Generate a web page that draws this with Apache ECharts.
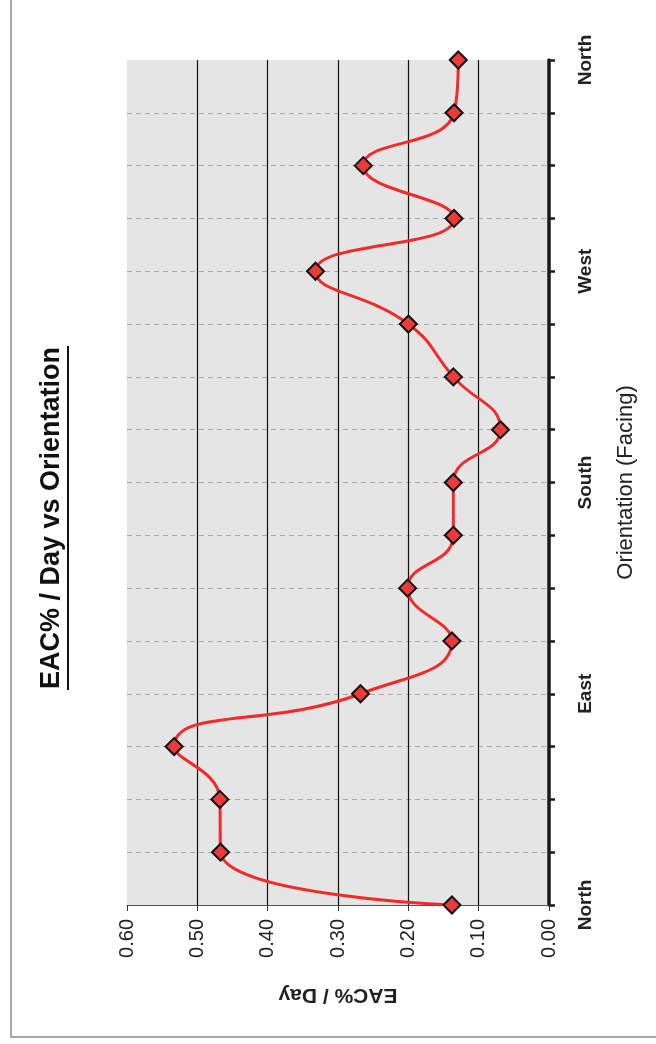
<!DOCTYPE html>
<html>
<head>
<meta charset="utf-8">
<script src="https://cdn.jsdelivr.net/npm/echarts@6/dist/echarts.min.js"></script>
<style>
html,body{margin:0;padding:0;background:#fff;}
#c{width:656px;height:1044px;}
</style>
</head>
<body>
<div id="c"></div>
<script>
const categories = ['North','','','','East','','','','South','','','','West','','','','North'];
const values = [0.138, 0.467, 0.468, 0.533, 0.268, 0.138, 0.201, 0.136, 0.136, 0.069, 0.136, 0.2, 0.332, 0.135, 0.264, 0.135, 0.129];
const valueTicks = { min: 0, max: 0.6, interval: 0.1 };
const titleText = 'EAC% / Day vs Orientation';
const valueAxisName = 'EAC% / Day';
const categoryAxisName = 'Orientation (Facing)';

const chart = echarts.init(document.getElementById('c'), null, {renderer: 'canvas'});
const font = '"Liberation Sans", Arial, sans-serif';
const gridLineColors = ['rgba(0,0,0,0)', '#111', '#111', '#111', '#111', '#111', 'rgba(0,0,0,0)'];
chart.setOption({
  backgroundColor: '#ffffff',
  animation: false,
  textStyle: { fontFamily: font },
  grid: {
    left: 127, right: 107, top: 60, bottom: 139,
    show: true, backgroundColor: '#e5e5e5', borderWidth: 0
  },
  graphic: [
    { type: 'rect', shape: { x: 11, y: -10, width: 700, height: 1047 },
      style: { fill: 'none', stroke: '#8a8a8a', lineWidth: 1.5 }, silent: true, z: -1 },
    { type: 'text', x: 52, y: 518, rotation: Math.PI / 2,
      style: { text: titleText, font: 'bold 27px ' + font, fill: '#111',
               textAlign: 'center', textVerticalAlign: 'middle' } },
    { type: 'line', shape: { x1: 68, y1: 346, x2: 68, y2: 690 },
      style: { stroke: '#111', lineWidth: 2 } }
  ],
  xAxis: {
    type: 'value', inverse: true, position: 'bottom',
    min: valueTicks.min, max: valueTicks.max, interval: valueTicks.interval,
    axisLine: { show: true, onZero: false, lineStyle: { color: '#555', width: 1 } },
    axisTick: { show: true, length: 6, lineStyle: { color: '#333' } },
    axisLabel: { rotate: 90, margin: 14, fontSize: 20, color: '#222', fontFamily: font,
                 formatter: v => v.toFixed(2) },
    splitLine: { show: true, lineStyle: { color: gridLineColors, width: 1.2 } },
    name: valueAxisName, nameLocation: 'middle', nameGap: 79, nameRotate: 180,
    nameTextStyle: { fontSize: 21, fontWeight: 'bold', color: '#222', fontFamily: font }
  },
  yAxis: {
    type: 'category', position: 'right', boundaryGap: false, data: categories,
    axisLine: { show: true, lineStyle: { color: '#1a1a1a', width: 3.5 } },
    axisTick: { show: true, interval: 0, length: 6, inside: false, lineStyle: { color: '#1a1a1a', width: 2.5 } },
    axisLabel: { interval: 0, rotate: 90, margin: 27, fontSize: 19, fontWeight: 'bold', color: '#222', fontFamily: font },
    splitLine: { show: true, interval: 0, showMinLine: false, showMaxLine: false, lineStyle: { color: '#aaaaaa', type: [5, 4], width: 1 } },
    name: categoryAxisName, nameLocation: 'middle', nameGap: 66, nameRotate: 90,
    nameTextStyle: { fontSize: 22, color: '#222', fontFamily: font }
  },
  series: [{
    type: 'line', data: values, smooth: 0.5,
    lineStyle: { color: '#f42a2a', width: 3 },
    symbol: 'diamond', symbolSize: 17,
    itemStyle: { color: '#ec3a3a', borderColor: '#111', borderWidth: 2 }
  }]
});
</script>
</body>
</html>
